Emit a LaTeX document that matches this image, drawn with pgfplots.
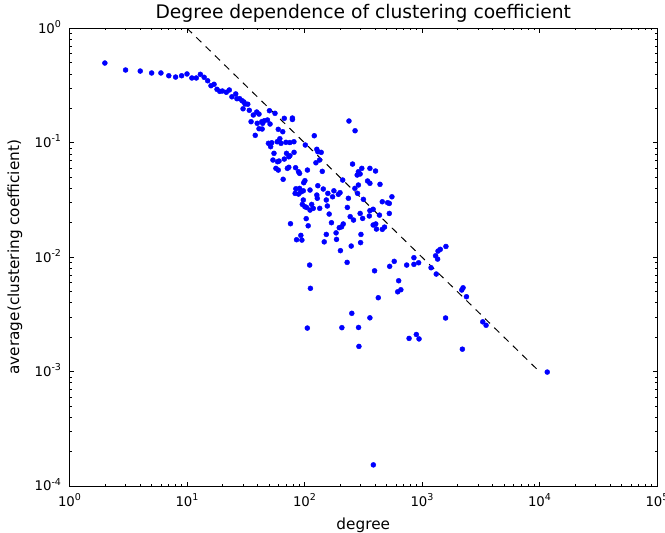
\documentclass[border=0pt]{standalone}
\usepackage{fontspec}
\setmainfont{DejaVu Sans}
\usepackage{pgfplots}
\pgfplotsset{compat=1.18}
\newcommand{\tp}[1]{10\raisebox{0.42em}{\fontsize{9.5bp}{10bp}\selectfont #1}}
\begin{document}
\begin{tikzpicture}
\path[use as bounding box] (-69.5bp,-47bp) rectangle (595.5bp,486bp);
\begin{axis}[
  at={(0,0)}, anchor=south west,
  xmode=log, ymode=log,
  scale only axis, width=587.5bp, height=457.7bp,
  xmin=1, xmax=1e5, ymin=1e-4, ymax=1,
  xtick={1,10,100,1000,10000,100000},
  xticklabels={\tp{0},\tp{1},\tp{2},\tp{3},\tp{4},\tp{5}},
  ytick={1e-4,1e-3,1e-2,1e-1,1},
  yticklabels={\tp{-4},\tp{-3},\tp{-2},\tp{-1},\tp{0}},
  minor xtick={2,3,4,5,6,7,8,9,20,30,40,50,60,70,80,90,200,300,400,500,600,700,800,900,2000,3000,4000,5000,6000,7000,8000,9000,20000,30000,40000,50000,60000,70000,80000,90000},
  minor ytick={0.0002,0.0003,0.0004,0.0005,0.0006,0.0007,0.0008,0.0009,0.002,0.003,0.004,0.005,0.006,0.007,0.008,0.009,0.02,0.03,0.04,0.05,0.06,0.07,0.08,0.09,0.2,0.3,0.4,0.5,0.6,0.7,0.8,0.9},
  tick align=inside,
  major tick length=4.4bp, minor tick length=2.2bp,
  every tick/.style={black, line width=0.6bp},
  axis line style={line width=1bp},
  tick label style={font=\fontsize{13.3bp}{16bp}\selectfont},
  xticklabel style={anchor=base, yshift=-20bp},
  yticklabel style={anchor=base east, xshift=-5bp, yshift=-4.85bp},
  title={Degree dependence of clustering coefficient},
  every axis title/.style={at={(axis description cs:0.5,1)}, anchor=base, yshift=9.3bp, font=\fontsize{18.7bp}{22bp}\selectfont},
  xlabel={degree},
  every axis x label/.style={at={(axis description cs:0.5,0)}, anchor=base, yshift=-43.3bp, font=\fontsize{15.3bp}{18bp}\selectfont},
  ylabel={average(clustering coefficient)},
  every axis y label/.style={at={(axis description cs:0,0.5)}, xshift=-54.5bp, rotate=90, anchor=center, font=\fontsize{15.3bp}{18bp}\selectfont},
]
\addplot[black, line width=1bp, dash pattern=on 7bp off 6bp] coordinates {(10,1) (9600,0.00104)};
\addplot[only marks, mark=*, mark size=2.5bp, color=blue, fill=blue] coordinates {
(2,0.497) (3,0.432) (4,0.423) (5,0.407) (6,0.407) (7,0.385) (8,0.375) (9,0.385) (10,0.399)
(11,0.368) (12,0.368) (13,0.396) (14,0.373) (15,0.348) (16,0.315) (17,0.324) (18,0.293)
(19,0.281) (20,0.283) (21.6,0.276) (22.9,0.289) (24.1,0.252) (26,0.267) (26.6,0.2425)
(28.1,0.2425) (29.4,0.233) (30.5,0.227) (31.2,0.218) (32.9,0.217) (30,0.198) (33.9,0.192)
(36.7,0.1746) (39.2,0.1855) (35.1,0.1527) (39.6,0.1478) (41,0.1326) (38.1,0.1161)
(41,0.178) (43.3,0.1527) (45.5,0.1557) (44.1,0.1478) (48.4,0.158) (50.9,0.1457)
(43.6,0.1318) (50.3,0.1905) (56.1,0.1807) (67.3,0.1634) (78.9,0.1644) (78.9,0.1595)
(59.8,0.131) (65.3,0.1248) (61.7,0.1084) (49.3,0.0988) (52.6,0.1) (51.5,0.0923)
(58.6,0.102) (63.1,0.0988) (69.5,0.1008) (75.1,0.1004) (81.3,0.102) (55,0.0808)
(70.3,0.0808) (75.1,0.077) (81.5,0.0824) (121.1,0.1151) (101.6,0.0955) (127.3,0.0876)
(129.8,0.0834) (138.7,0.0824) (134.3,0.0706) (125.1,0.0668) (141.7,0.0562) (53.9,0.0706)
(59,0.0682) (60.7,0.0692) (67.3,0.072) (73.5,0.0754) (57.1,0.0597) (59.8,0.0577)
(73.5,0.061) (71.5,0.0597) (84,0.0605) (88.9,0.0558) (90.8,0.054) (105.9,0.0577)
(65.8,0.0479) (98.5,0.0447) (100.8,0.0466) (84.4,0.0396) (90.8,0.0399) (93.1,0.0371)
(97.7,0.038) (83.2,0.0361) (88.9,0.0356) (111.4,0.0386) (129.8,0.0421) (144.5,0.0394)
(158,0.0361) (127.3,0.0349) (128.5,0.0327) (153.3,0.0316) (97.7,0.0316) (95.8,0.0289)
(100.8,0.0276) (104.1,0.0272) (111.4,0.0258) (118.8,0.0267) (115.1,0.0289) (134.8,0.0267)
(156.5,0.028) (162.2,0.0238) (103.4,0.0217) (107.5,0.0188) (76,0.0196) (93.1,0.0155)
(153.3,0.0158) (85.6,0.0142) (95,0.0141)
(239.1,0.1548) (269.4,0.1273) (256.4,0.0651) (287.5,0.0558) (307.4,0.0597) (360.3,0.0597)
(402.3,0.0566) (280.8,0.0522) (297.5,0.0533) (439.1,0.0433) (344.3,0.0463) (360.3,0.0442)
(211.3,0.0472) (287.5,0.0427) (268.4,0.0399) (282.8,0.0361) (317.1,0.032) (236.2,0.0327)
(297.5,0.0241) (312.6,0.0218) (360.3,0.0255) (384.1,0.0262) (356.1,0.0229) (434.4,0.0233)
(231.6,0.0272) (244.8,0.0226) (261.3,0.0211) (206.8,0.0184) (197.6,0.0181) (213.6,0.0195)
(169.6,0.02) (177.9,0.038) (194.2,0.0354) (200.6,0.0366) (173.3,0.0337) (185.7,0.0163)
(187.3,0.0143) (202.2,0.0114) (249.8,0.0125) (300.2,0.0134) (302.3,0.0158) (384.1,0.0191)
(404,0.0195) (409.5,0.0176) (459.2,0.0175) (479.8,0.0183) (526.9,0.0241) (510.1,0.0299)
(459.2,0.0305) (526.9,0.0295) (554.6,0.0337) (147.2,0.0136)
(230.6,0.009) (110.6,0.00853) (112.3,0.00534) (394.8,0.0076) (424.5,0.00442) (252.6,0.00323)
(360.3,0.00295) (105.7,0.0024) (208,0.00242) (288.5,0.00243) (290.6,0.00166) (530.6,0.00831)
(580.3,0.00919) (633.1,0.00622) (621,0.00498) (660.7,0.00519) (741,0.00853) (853.6,0.00865)
(935.8,0.00893) (853.6,0.00989) (776.3,0.00195) (894.8,0.00211) (943.6,0.00193) (1194,0.00808)
(1322,0.00712) (1305,0.01028) (1358,0.00962) (1369,0.0113) (1431,0.0117) (1599,0.0124)
(2180,0.00516) (2236,0.0054) (2390,0.00451) (1587,0.00294) (3290,0.00272) (3510,0.00254)
(2206,0.00157) (11640,0.00099) (385.5,0.000153)
};
\end{axis}
\end{tikzpicture}
\end{document}
